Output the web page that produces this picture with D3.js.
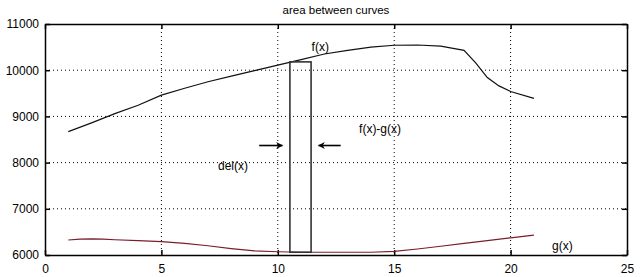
<!DOCTYPE html>
<html>
<head>
<meta charset="utf-8">
<style>
  body { margin: 0; background: #fff; }
  text { font-family: "Liberation Sans", Arial, sans-serif; font-size: 12px; fill: #000; }
  .grid line { stroke: #000; stroke-dasharray: 1,3; stroke-width: 1; }
  .line { fill: none; stroke-width: 1.2px; }
</style>
</head>
<body>
<svg width="640" height="277"></svg>
<script src="https://cdn.jsdelivr.net/npm/d3@7"></script>
<script>
// data
var fX = [1, 2, 3, 4, 5, 6, 7, 8, 9, 10, 11, 12, 13, 14, 15, 16, 17, 18, 18.5, 19, 19.5, 20, 21];
var fY = [8670, 8860, 9060, 9240, 9460, 9610, 9750, 9870, 9990, 10110, 10230, 10350, 10430, 10500, 10540, 10545, 10520, 10430, 10160, 9840, 9660, 9540, 9390];
var gX = [1, 1.5, 2, 2.5, 3, 4, 5, 6, 7, 8, 9, 10, 11, 12, 13, 14, 15, 16, 17, 18, 19, 20, 21];
var gY = [6325, 6345, 6350, 6345, 6330, 6310, 6290, 6250, 6200, 6140, 6090, 6070, 6060, 6060, 6060, 6060, 6080, 6130, 6190, 6250, 6310, 6370, 6430];
var xTicks = [0, 5, 10, 15, 20, 25];
var yTicks = [6000, 7000, 8000, 9000, 10000, 11000];
var strip = {x0: 10.52, x1: 11.43, top: 10180, bottom: 6060};
var arrowsData = [
  {from: 9.2, to: 10.2, y: 8370},
  {from: 12.7, to: 11.75, y: 8370}
];
var labels = [
  {x: 11.45, y: 10416, text: "f(x)"},
  {x: 13.49, y: 8640, text: "f(x)-g(x)"},
  {x: 7.43, y: 7840, text: "del(x)"},
  {x: 21.78, y: 6108, text: "g(x)"}
];
var title = "area between curves";

var svg = d3.select("svg"),
    margin = {top: 24, right: 13, bottom: 22, left: 45},
    width = +svg.attr("width") - margin.left - margin.right,
    height = +svg.attr("height") - margin.top - margin.bottom,
    g = svg.append("g").attr("transform", "translate(" + margin.left + "," + margin.top + ")");

var x = d3.scaleLinear().domain([0, 25]).range([0, width]),
    y = d3.scaleLinear().domain([6000, 11000]).range([height, 0]);

// grid
var grid = g.append("g").attr("class", "grid");
grid.selectAll(".gx").data(xTicks.slice(1, -1)).enter().append("line")
    .attr("x1", function(d) { return x(d); }).attr("x2", function(d) { return x(d); })
    .attr("y1", 0).attr("y2", height);
grid.selectAll(".gy").data(yTicks.slice(1, -1)).enter().append("line")
    .attr("y1", function(d) { return y(d); }).attr("y2", function(d) { return y(d); })
    .attr("x1", 0).attr("x2", width);

// axes (ticks inward, box on all sides)
function styleAxis(sel) {
  sel.select(".domain").attr("stroke", "#000").attr("stroke-width", 1.5);
  sel.selectAll(".tick line").attr("stroke", "#000").attr("stroke-width", 1.5);
  sel.selectAll("text").style("font-size", "12px").attr("font-family", null);
}
g.append("g").attr("transform", "translate(0," + height + ")")
  .call(d3.axisBottom(x).tickValues(xTicks).tickSizeInner(-5).tickSizeOuter(0).tickPadding(9))
  .call(styleAxis);
g.append("g")
  .call(d3.axisLeft(y).tickValues(yTicks).tickFormat(d3.format("d")).tickSizeInner(-5).tickSizeOuter(0).tickPadding(6))
  .call(styleAxis);
g.append("g")
  .call(d3.axisTop(x).tickValues(xTicks).tickSizeInner(-5).tickSizeOuter(0).tickFormat(""))
  .call(styleAxis);
g.append("g").attr("transform", "translate(" + width + ",0)")
  .call(d3.axisRight(y).tickValues(yTicks).tickSizeInner(-5).tickSizeOuter(0).tickFormat(""))
  .call(styleAxis);

var line = d3.line()
  .x(function(d) { return x(d[0]); })
  .y(function(d) { return y(d[1]); });

g.append("path").attr("class", "line")
  .attr("stroke", "#111")
  .attr("d", line(d3.zip(fX, fY)));
g.append("path").attr("class", "line")
  .attr("stroke", "#7a1e2a")
  .attr("d", line(d3.zip(gX, gY)));

// strip rectangle
g.append("rect")
  .attr("x", x(strip.x0)).attr("y", y(strip.top))
  .attr("width", x(strip.x1) - x(strip.x0))
  .attr("height", y(strip.bottom) - y(strip.top))
  .attr("fill", "none").attr("stroke", "#333").attr("stroke-width", 1.6);

// arrows
svg.append("defs").append("marker")
  .attr("id", "head").attr("viewBox", "0 0 10 10")
  .attr("refX", 9).attr("refY", 5)
  .attr("markerWidth", 7).attr("markerHeight", 7)
  .attr("markerUnits", "userSpaceOnUse")
  .attr("orient", "auto")
  .append("path").attr("d", "M0,0 L10,5 L0,10 L3,5 Z").attr("fill", "#000");
g.selectAll(".arrow").data(arrowsData).enter().append("line")
  .attr("x1", function(d) { return x(d.from); })
  .attr("x2", function(d) { return x(d.to); })
  .attr("y1", function(d) { return y(d.y); })
  .attr("y2", function(d) { return y(d.y); })
  .attr("stroke", "#000").attr("stroke-width", 1.6)
  .attr("marker-end", "url(#head)");

g.selectAll(".lbl").data(labels).enter().append("text")
  .attr("x", function(d) { return x(d.x); })
  .attr("y", function(d) { return y(d.y); })
  .text(function(d) { return d.text; });

svg.append("text")
  .attr("x", margin.left + width / 2)
  .attr("y", 14)
  .attr("text-anchor", "middle")
  .style("font-size", "11.5px")
  .text(title);
</script>
</body>
</html>
